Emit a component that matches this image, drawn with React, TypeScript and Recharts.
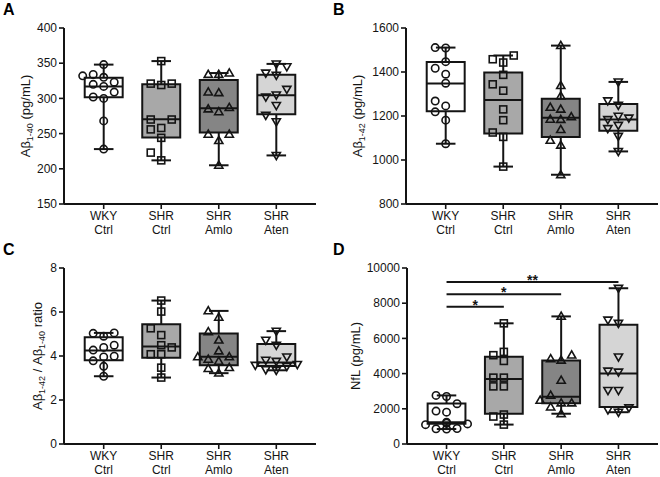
import React from 'react'
import { ScatterChart, Scatter, XAxis, YAxis, ReferenceArea, ReferenceLine } from 'recharts'

const FONT = 'Arial, "Liberation Sans", Helvetica, sans-serif'
const INK = '#141414'

// categories
const groupTop = ['WKY', 'SHR', 'SHR', 'SHR']
const groupBottom = ['Ctrl', 'Ctrl', 'Amlo', 'Aten']
const boxFill = ['#ffffff', '#a8a8a8', '#858585', '#d5d5d5']
const markerKind = ['circle', 'square', 'up', 'down']

// A: Aβ1-40 (pg/mL)
const a40Wky = [348, 334, 332, 330, 323, 320, 317, 309, 302, 300, 268, 228]
const a40ShrCtrl = [353, 321, 321, 319, 270, 270, 258, 256, 244, 223, 212]
const a40ShrAmlo = [336, 334, 334, 309, 308, 287, 285, 281, 249, 249, 240, 205]
const a40ShrAten = [349, 345, 336, 333, 313, 305, 302, 290, 276, 267, 219]
const a40Q1 = [301.5, 244.5, 251.5, 277.5]
const a40Median = [317, 270.5, 286, 304.5]
const a40Q3 = [329.5, 320, 326, 333.5]
const a40Ticks = [150, 200, 250, 300, 350, 400]

// B: Aβ1-42 (pg/mL)
const a42Wky = [1511, 1509, 1447, 1417, 1390, 1349, 1268, 1246, 1219, 1181, 1074]
const a42ShrCtrl = [1475, 1458, 1443, 1387, 1344, 1315, 1230, 1181, 1125, 1105, 970]
const a42ShrAmlo = [1520, 1338, 1291, 1239, 1231, 1196, 1185, 1184, 1138, 1089, 1067, 933]
const a42ShrAten = [1355, 1269, 1249, 1199, 1191, 1184, 1158, 1143, 1108, 1039]
const a42Q1 = [1222, 1120, 1105, 1133]
const a42Median = [1348, 1273, 1192, 1184]
const a42Q3 = [1445, 1398, 1278, 1255]
const a42Ticks = [800, 1000, 1200, 1400, 1600]

// C: Aβ1-42 / Aβ1-40 ratio
const ratioWky = [5.05, 5.03, 4.9, 4.49, 4.39, 4.27, 3.99, 3.96, 3.78, 3.53, 3.08]
const ratioShrCtrl = [6.52, 6.02, 5.26, 4.95, 4.49, 4.39, 4.08, 4.08, 3.47, 3.02]
const ratioShrAmlo = [6.05, 5.76, 5.1, 4.72, 4.23, 3.96, 3.96, 3.85, 3.76, 3.47, 3.43, 3.22]
const ratioShrAten = [5.13, 4.72, 4.49, 3.96, 3.81, 3.76, 3.62, 3.58, 3.53, 3.38, 3.35]
const ratioQ1 = [3.81, 3.92, 3.58, 3.55]
const ratioMedian = [4.25, 4.43, 3.97, 3.7]
const ratioQ3 = [4.85, 5.44, 5.02, 4.55]
const ratioTicks = [0, 2, 4, 6, 8]

// D: NfL (pg/mL)
const nflWky = [2760, 2700, 2290, 1870, 1810, 1240, 1180, 1140, 1100, 880, 860, 850]
const nflShrCtrl = [6857, 5234, 5046, 4720, 3771, 3771, 3274, 3274, 1674, 1560, 1103]
const nflShrAmlo = [7250, 5050, 4840, 4760, 3620, 2760, 2480, 2330, 2330, 2100, 1720]
const nflShrAten = [8850, 7046, 6857, 4950, 4149, 4091, 3046, 3046, 2057, 1943, 1806]
const nflQ1 = [1150, 1714, 2320, 2100]
const nflMedian = [1230, 3700, 2680, 4000]
const nflQ3 = [2300, 4960, 4740, 6780]
const nflTicks = [0, 2000, 4000, 6000, 8000, 10000]
const nflSigTo = [2, 3, 4]
const nflSigY = [7800, 8510, 9200]
const nflSigText = ['*', '*', '**']

const X_DOMAIN: [number, number] = [0.31, 4.69]
const BOX_HALF = 0.33
const CAP_HALF = 0.17

// spread points sideways where they would overlap (like Prism's scatter)
function swarmOffsets(values: number[], pxX: number, pxY: number): number[] {
  const step = 10.5
  const minGap = 8.5
  const order = values.map((_, k) => k).sort((a, b) => values[a] - values[b])
  const placed: { dx: number; py: number }[] = []
  const out = new Array(values.length).fill(0)
  for (const k of order) {
    const py = values[k] * pxY
    let dx = 0
    for (const c of [0, -step, step, -2 * step, 2 * step]) {
      if (placed.every((p) => Math.hypot(p.dx - c, p.py - py) >= minGap)) { dx = c; break }
    }
    placed.push({ dx, py })
    out[k] = dx / pxX
  }
  return out
}

function Marker(props: any) {
  const { cx, cy, kind } = props
  const common = { fill: 'none', stroke: INK, strokeWidth: 1.6 }
  if (kind === 'circle') return <circle cx={cx} cy={cy} r={3.7} {...common} />
  if (kind === 'square') return <rect x={cx - 3.5} y={cy - 3.5} width={7} height={7} {...common} />
  if (kind === 'up') return <polygon points={`${cx},${cy - 4.2} ${cx - 4.1},${cy + 2.9} ${cx + 4.1},${cy + 2.9}`} {...common} />
  return <polygon points={`${cx},${cy + 4.2} ${cx - 4.1},${cy - 2.9} ${cx + 4.1},${cy - 2.9}`} {...common} />
}

function CatTick(props: any) {
  const { x, y, payload } = props
  const i = Math.round(payload.value) - 1
  return (
    <text x={x} y={y} textAnchor="middle" fontSize={12} fill={INK} fontFamily={FONT}>
      <tspan x={x} dy={9}>{groupTop[i]}</tspan>
      <tspan x={x} dy={14}>{groupBottom[i]}</tspan>
    </text>
  )
}

function StarLabel(props: any) {
  const { viewBox, text } = props
  const cx = viewBox.x + viewBox.width / 2
  return (
    <text x={cx} y={viewBox.y + 3} textAnchor="middle" fontSize={14} fontWeight="bold" fill={INK} fontFamily={FONT}>{text}</text>
  )
}

interface PanelProps {
  left: number; top: number; width: number; height: number
  yWidth: number; mRight: number; mTop: number; xHeight: number
  domain: [number, number]; ticks: number[]
  groups: number[][]; q1: number[]; median: number[]; q3: number[]
  letter: string; title: React.ReactNode; titleX: number
  sigTo?: number[]; sigY?: number[]; sigText?: string[]
}

function BoxPanel(p: PanelProps) {
  const plotW = p.width - p.yWidth - p.mRight
  const plotH = p.height - p.mTop - p.xHeight
  const pxX = plotW / (X_DOMAIN[1] - X_DOMAIN[0])
  const pxY = plotH / (p.domain[1] - p.domain[0])
  const axisStyle = { stroke: INK, strokeWidth: 2 }

  return (
    <div style={{ position: 'absolute', left: p.left, top: p.top, width: p.width, height: p.height }}>
      <ScatterChart width={p.width} height={p.height} margin={{ top: p.mTop, right: p.mRight, bottom: 0, left: 0 }}>
        <XAxis
          type="number" dataKey="x" domain={X_DOMAIN} ticks={[1, 2, 3, 4]} interval={0}
          allowDataOverflow height={p.xHeight} tickSize={5}
          axisLine={axisStyle} tickLine={{ stroke: INK, strokeWidth: 1.6 }} tick={<CatTick />}
        />
        <YAxis
          type="number" dataKey="y" domain={p.domain} ticks={p.ticks} interval={0}
          allowDataOverflow width={p.yWidth} tickSize={5}
          axisLine={axisStyle} tickLine={{ stroke: INK, strokeWidth: 1.6 }}
          tick={{ fill: INK, fontSize: 12, fontFamily: FONT }}
        />
        {p.groups.map((vals, g) => {
          const x = g + 1
          const lo = Math.min(...vals)
          const hi = Math.max(...vals)
          return [
            <ReferenceArea key={`box${g}`} x1={x - BOX_HALF} x2={x + BOX_HALF} y1={p.q1[g]} y2={p.q3[g]}
              fill={boxFill[g]} fillOpacity={1} stroke={INK} strokeWidth={2} />,
            <ReferenceLine key={`med${g}`} segment={[{ x: x - BOX_HALF, y: p.median[g] }, { x: x + BOX_HALF, y: p.median[g] }]} stroke={INK} strokeWidth={2} />,
            <ReferenceLine key={`wlo${g}`} segment={[{ x, y: lo }, { x, y: p.q1[g] }]} stroke={INK} strokeWidth={2} />,
            <ReferenceLine key={`whi${g}`} segment={[{ x, y: p.q3[g] }, { x, y: hi }]} stroke={INK} strokeWidth={2} />,
            <ReferenceLine key={`clo${g}`} segment={[{ x: x - CAP_HALF, y: lo }, { x: x + CAP_HALF, y: lo }]} stroke={INK} strokeWidth={2} />,
            <ReferenceLine key={`chi${g}`} segment={[{ x: x - CAP_HALF, y: hi }, { x: x + CAP_HALF, y: hi }]} stroke={INK} strokeWidth={2} />,
          ]
        })}
        {(p.sigTo || []).map((to, s) => (
          <ReferenceLine key={`sig${s}`} segment={[{ x: 1, y: p.sigY![s] }, { x: to, y: p.sigY![s] }]}
            stroke={INK} strokeWidth={2} label={<StarLabel text={p.sigText![s]} />} />
        ))}
        {p.groups.map((vals, g) => {
          const offs = swarmOffsets(vals, pxX, pxY)
          const pts = vals.map((v, k) => ({ x: g + 1 + offs[k], y: v }))
          return (
            <Scatter key={`pts${g}`} data={pts} isAnimationActive={false}
              shape={(sp: any) => <Marker cx={sp.cx} cy={sp.cy} kind={markerKind[g]} />} />
          )
        })}
      </ScatterChart>
      <svg width={p.width} height={p.height} style={{ position: 'absolute', left: 0, top: 0, pointerEvents: 'none' }}>
        <text x={3} y={15} fontSize={16} fontWeight="bold" fill="#000" fontFamily={FONT}>{p.letter}</text>
        <text x={p.titleX} y={p.mTop + plotH / 2} transform={`rotate(-90 ${p.titleX} ${p.mTop + plotH / 2})`}
          textAnchor="middle" fontSize={13} fill={INK} fontFamily={FONT}>{p.title}</text>
      </svg>
    </div>
  )
}

const sub = (t: string) => <tspan fontSize={9} dy={3}>{t}</tspan>
const up = (t: string) => <tspan dy={-3}>{t}</tspan>

export default function App() {
  return (
    <div style={{ position: 'absolute', left: 0, top: 0, width: 660, height: 477, background: '#fff', overflow: 'hidden' }}>
      <BoxPanel left={0} top={0} width={330} height={240} yWidth={64} mRight={14} mTop={28} xHeight={36}
        domain={[150, 400]} ticks={a40Ticks}
        groups={[a40Wky, a40ShrCtrl, a40ShrAmlo, a40ShrAten]} q1={a40Q1} median={a40Median} q3={a40Q3}
        letter="A" titleX={29.5} title={<>Aβ{sub('1-40')}{up(' (pg/mL)')}</>} />
      <BoxPanel left={330} top={0} width={330} height={240} yWidth={76} mRight={2} mTop={28} xHeight={36}
        domain={[800, 1600]} ticks={a42Ticks}
        groups={[a42Wky, a42ShrCtrl, a42ShrAmlo, a42ShrAten]} q1={a42Q1} median={a42Median} q3={a42Q3}
        letter="B" titleX={31.5} title={<>Aβ{sub('1-42')}{up(' (pg/mL)')}</>} />
      <BoxPanel left={0} top={240} width={330} height={237} yWidth={64} mRight={14} mTop={28} xHeight={33}
        domain={[0, 8]} ticks={ratioTicks}
        groups={[ratioWky, ratioShrCtrl, ratioShrAmlo, ratioShrAten]} q1={ratioQ1} median={ratioMedian} q3={ratioQ3}
        letter="C" titleX={41.5} title={<>Aβ{sub('1-42')}{up(' / Aβ')}{sub('1-40')}{up(' ratio')}</>} />
      <BoxPanel left={330} top={240} width={330} height={237} yWidth={77} mRight={2} mTop={28} xHeight={33}
        domain={[0, 10000]} ticks={nflTicks}
        groups={[nflWky, nflShrCtrl, nflShrAmlo, nflShrAten]} q1={nflQ1} median={nflMedian} q3={nflQ3}
        sigTo={nflSigTo} sigY={nflSigY} sigText={nflSigText}
        letter="D" titleX={30} title={<>NfL (pg/mL)</>} />
    </div>
  )
}
